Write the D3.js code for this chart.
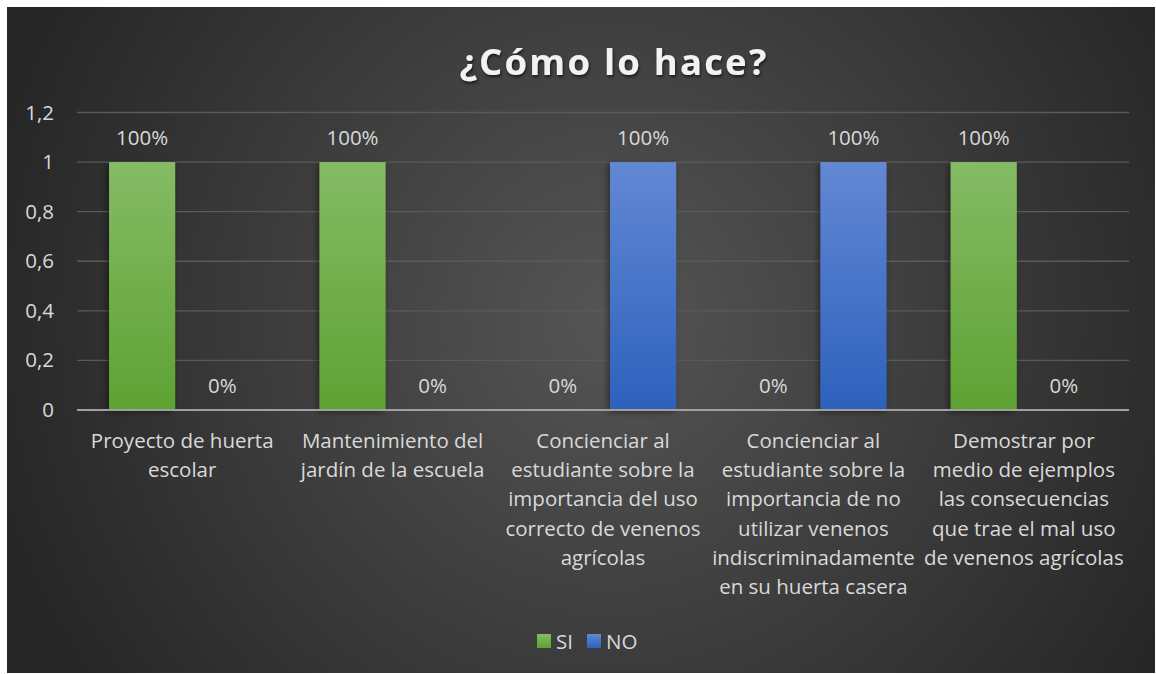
<!DOCTYPE html>
<html>
<head>
<meta charset="utf-8">
<script src="https://cdn.jsdelivr.net/npm/d3@7"></script>
<style>
  body { margin: 0; background: #fff; }
  svg { display: block; }
  text { font-family: "Open Sans", Lato, sans-serif; }
</style>
</head>
<body>
<div id="chart"></div>
<script>
// data
var categories = [
  "Proyecto de huerta\nescolar",
  "Mantenimiento del\njardín de la escuela",
  "Concienciar al\nestudiante sobre la\nimportancia del uso\ncorrecto de venenos\nagrícolas",
  "Concienciar al\nestudiante sobre la\nimportancia de no\nutilizar venenos\nindiscriminadamente\nen su huerta casera",
  "Demostrar por\nmedio de ejemplos\nlas consecuencias\nque trae el mal uso\nde venenos agrícolas"
];
var seriesNames = ["SI", "NO"];
var siValues = [1, 1, 0, 0, 1];
var noValues = [0, 0, 1, 1, 0];
var yTicks = [0, 0.2, 0.4, 0.6, 0.8, 1, 1.2];

var width = 1156, height = 674;
var fontSize = 20.5;
var colors = { SI: ["#85bb65", "#5ea232"], NO: ["#6388d4", "#2d61bd"] };

var svg = d3.select("#chart").append("svg")
  .attr("width", width)
  .attr("height", height);

var defs = svg.append("defs");

var bg = defs.append("radialGradient")
  .attr("id", "bg")
  .attr("gradientUnits", "userSpaceOnUse")
  .attr("cx", 610).attr("cy", 320).attr("r", 640);
bg.append("stop").attr("offset", "0%").attr("stop-color", "#555555");
bg.append("stop").attr("offset", "100%").attr("stop-color", "#262626");

seriesNames.forEach(function(s){
  var g = defs.append("linearGradient")
    .attr("id", "grad-" + s)
    .attr("x1", 0).attr("y1", 0).attr("x2", 0).attr("y2", 1);
  g.append("stop").attr("offset", "0%").attr("stop-color", colors[s][0]);
  g.append("stop").attr("offset", "100%").attr("stop-color", colors[s][1]);
});

var shadow = defs.append("filter").attr("id", "shadow")
  .attr("x", "-30%").attr("y", "-10%").attr("width", "160%").attr("height", "130%");
shadow.append("feDropShadow")
  .attr("dx", -2).attr("dy", 2).attr("stdDeviation", 3)
  .attr("flood-color", "#000").attr("flood-opacity", 0.45);

var titleShadow = defs.append("filter").attr("id", "tshadow")
  .attr("x", "-10%").attr("y", "-30%").attr("width", "120%").attr("height", "160%");
titleShadow.append("feDropShadow")
  .attr("dx", 1).attr("dy", 2).attr("stdDeviation", 1.5)
  .attr("flood-color", "#000").attr("flood-opacity", 0.6);

// chart area
svg.append("rect")
  .attr("x", 7).attr("y", 7)
  .attr("width", 1148).attr("height", 666)
  .attr("fill", "url(#bg)");

svg.append("text")
  .attr("x", 614).attr("y", 75)
  .attr("text-anchor", "middle")
  .attr("fill", "#f2f2f2")
  .attr("font-size", 36.5)
  .attr("font-weight", "bold")
  .attr("letter-spacing", 2.2)
  .attr("filter", "url(#tshadow)")
  .text("¿Cómo lo hace?");

var plotLeft = 77, plotRight = 1129;
var y = d3.scaleLinear().domain([0, 1.2]).range([410, 112.5]);
var x = d3.scaleBand().domain(d3.range(categories.length)).range([plotLeft, plotRight]);
var xs = d3.scaleBand().domain(seriesNames).range([0, x.bandwidth()])
  .paddingInner(0.175).paddingOuter(0.4);

var fmt = function(d){ return String(d).replace(".", ","); };

// gridlines
svg.append("g").selectAll("line")
  .data(yTicks.filter(function(d){ return d > 0; }))
  .enter().append("line")
  .attr("x1", plotLeft).attr("x2", plotRight)
  .attr("y1", function(d){ return y(d); })
  .attr("y2", function(d){ return y(d); })
  .attr("stroke", "#5a5a5a")
  .attr("stroke-width", 1.3);

// y axis labels
var yAxis = svg.append("g")
  .attr("transform", "translate(" + (plotLeft - 23) + ",0)")
  .call(d3.axisLeft(y).tickValues(yTicks).tickFormat(fmt).tickSize(0).tickPadding(0));
yAxis.select(".domain").remove();
yAxis.selectAll("text")
  .attr("fill", "#d9d9d9")
  .attr("font-size", fontSize)
  .attr("font-family", "'Open Sans', Lato, sans-serif");

// bars
var rows = categories.map(function(c, i){
  return [{ s: "SI", v: siValues[i], i: i }, { s: "NO", v: noValues[i], i: i }];
});

var groups = svg.append("g").selectAll("g")
  .data(rows)
  .enter().append("g")
  .attr("transform", function(d, i){ return "translate(" + x(i) + ",0)"; });

groups.selectAll("rect")
  .data(function(d){ return d.filter(function(e){ return e.v > 0; }); })
  .enter().append("rect")
  .attr("x", function(d){ return xs(d.s); })
  .attr("y", function(d){ return y(d.v); })
  .attr("width", xs.bandwidth())
  .attr("height", function(d){ return y(0) - y(d.v); })
  .attr("fill", function(d){ return "url(#grad-" + d.s + ")"; })
  .attr("filter", "url(#shadow)");

// axis line
svg.append("line")
  .attr("x1", plotLeft).attr("x2", plotRight)
  .attr("y1", y(0)).attr("y2", y(0))
  .attr("stroke", "#a0a0a0")
  .attr("stroke-width", 2);

// data labels
groups.selectAll("text.lbl")
  .data(function(d){ return d; })
  .enter().append("text")
  .attr("class", "lbl")
  .attr("x", function(d){ return xs(d.s) + xs.bandwidth() / 2; })
  .attr("y", function(d){ return y(d.v) - 17; })
  .attr("text-anchor", "middle")
  .attr("fill", "#d9d9d9")
  .attr("font-size", fontSize)
  .text(function(d){ return Math.round(d.v * 100) + "%"; });

// category labels
var catLabels = svg.append("g").selectAll("text")
  .data(categories)
  .enter().append("text")
  .attr("x", function(d, i){ return x(i) + x.bandwidth() / 2; })
  .attr("y", 448)
  .attr("text-anchor", "middle")
  .attr("fill", "#d9d9d9")
  .attr("font-size", fontSize);

catLabels.selectAll("tspan")
  .data(function(d){ return d.split("\n"); })
  .enter().append("tspan")
  .attr("x", function(){ return d3.select(this.parentNode).attr("x"); })
  .attr("dy", function(d, i){ return i === 0 ? 0 : 29.2; })
  .text(function(d){ return d; });

// legend
var legend = svg.append("g").attr("transform", "translate(537,634)");
var item = legend.selectAll("g")
  .data(seriesNames)
  .enter().append("g")
  .attr("transform", function(d, i){ return "translate(" + (i * 50) + ",0)"; });
item.append("rect")
  .attr("width", 14).attr("height", 14)
  .attr("fill", function(d){ return "url(#grad-" + d + ")"; });
item.append("text")
  .attr("x", 19).attr("y", 14.5)
  .attr("fill", "#d9d9d9")
  .attr("font-size", fontSize)
  .text(function(d){ return d; });
</script>
</body>
</html>
